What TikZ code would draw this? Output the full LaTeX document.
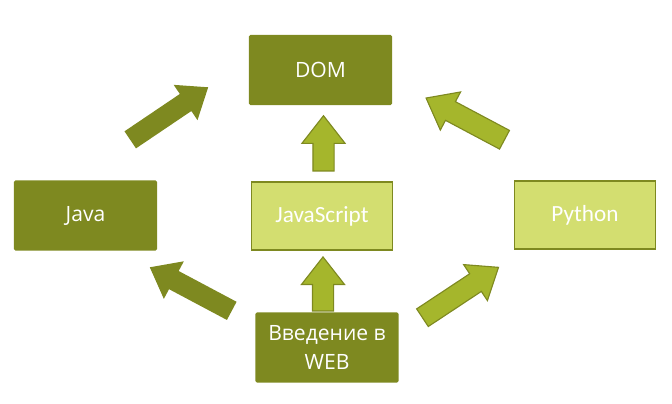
\documentclass[tikz,border=0pt]{standalone}
\usepackage{fontspec}
\setmainfont{Open Sans}
\newfontfamily\calfont{Carlito}
\usetikzlibrary{shapes.arrows}
\definecolor{olivedark}{RGB}{126,137,32}
\definecolor{limefill}{RGB}{211,222,112}
\definecolor{limearrow}{RGB}{165,182,44}

\begin{document}
\begin{tikzpicture}[x=0.025cm,y=-0.025cm,
    darkbox/.style={fill=olivedark, text=white, rounded corners=1pt,
      minimum width=3.575cm, minimum height=1.75cm, align=center,
      font=\fontsize{15}{21}\selectfont},
    lightbox/.style={fill=limefill, draw=olivedark, line width=1.2pt, text=white,
      minimum width=3.52cm, minimum height=1.7cm,
      font=\calfont\fontsize{16.5}{20}\selectfont},
    bigarrow/.style={single arrow, inner sep=0.25cm, minimum width=1.05cm,
      single arrow head extend=0.275cm, single arrow tip angle=76, anchor=tail},
    darkarrow/.style={bigarrow, fill=olivedark},
    lightarrow/.style={bigarrow, fill=limearrow, draw=olivedark, line width=0.8pt}]
  \useasboundingbox (0,0) rectangle (672,403);
  \node[darkbox] (DOM) at (320.5,70) {DOM};
  \node[darkbox] (Java) at (85.5,215.5) {Java};
  \node[lightbox] (JS) at (322,216) {JavaScript};
  \node[lightbox] (Python) at (585,215) {Python};
  \node[darkbox] (WEB) at (327,347.5) {Введение в\\WEB};
  \node[lightarrow, minimum height=1.38cm, rotate=90] (JStoDOM) at (323.5,171.5) {};
  \node[lightarrow, minimum height=1.35cm, rotate=90] (WEBtoJS) at (323,311.5) {};
  \node[darkarrow, minimum height=2.35cm, rotate=34] (JavatoDOM) at (130,140) {};
  \node[lightarrow, minimum height=2.22cm, rotate=152] (PythontoDOM) at (505,140) {};
  \node[darkarrow, minimum height=2.32cm, rotate=152] (WEBtoJava) at (232,311) {};
  \node[lightarrow, minimum height=2.28cm, rotate=33.5] (WEBtoPython) at (422,318) {};
\end{tikzpicture}
\end{document}
